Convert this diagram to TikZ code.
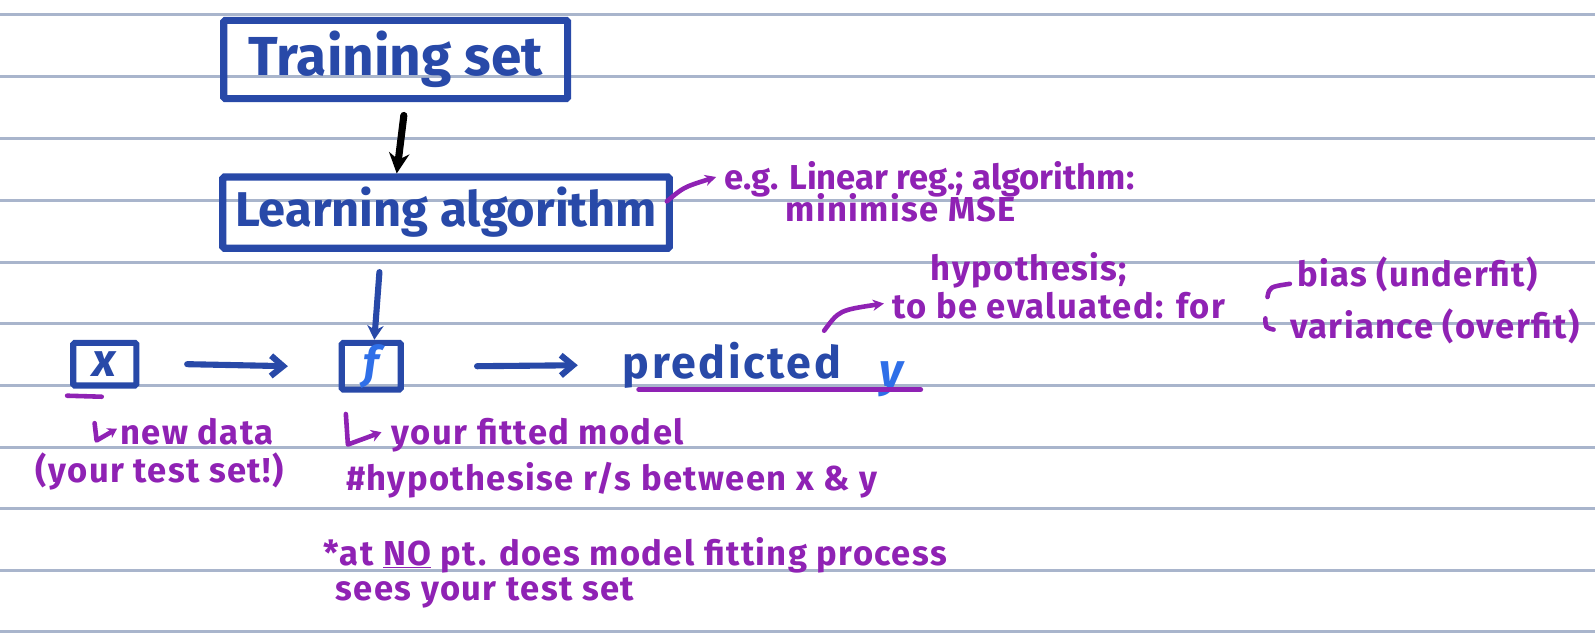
\documentclass[tikz,border=0pt]{standalone}
\usepackage{fontspec}
\setmainfont{Fira Sans}
\usetikzlibrary{arrows.meta}
\definecolor{boxblue}{HTML}{2849A8}
\definecolor{notepurple}{HTML}{8F22B4}
\definecolor{lightblue}{HTML}{2F6FE8}
\definecolor{rulecol}{HTML}{A9B5CC}
\begin{document}
\begin{tikzpicture}[x=1pt,y=-1pt,
  rule/.style={line width=2.5pt, draw=rulecol},
  bigbox/.style={draw=boxblue, line width=7pt, rounded corners=1.5pt, inner sep=0pt, text=boxblue},
  boxtext/.style={font=\fontsize{54}{58}\selectfont\bfseries},
  note/.style={text=notepurple, font=\fontsize{34}{38}\selectfont\bfseries\addfontfeature{LetterSpace=4}, anchor=base west, inner sep=0pt},
  bluetext/.style={text=boxblue, font=\fontsize{44}{46}\selectfont\bfseries\addfontfeature{LetterSpace=6}, anchor=base west, inner sep=0pt},
  pen/.style={line width=6pt, line cap=round, line join=round},
  notepen/.style={line width=4.5pt, line cap=round, line join=round, draw=notepurple},
  barb/.style={-{Straight Barb[length=12pt,width=20pt,line width=6pt]}},
  nbarb/.style={-{Stealth[length=11pt,width=11pt]}}
]
\useasboundingbox (0,0) rectangle (1568,622);
\fill[white] (0,0) rectangle (1568,622);
\foreach \yy in {14,75,136,197,258,318,379,440,500,561,621}
  \draw[rule] (0,\yy) -- (1568,\yy);

% boxes
\node[bigbox, boxtext, minimum width=338pt, minimum height=77pt] (train) at (389,58.5) {Training set};
\node[bigbox, boxtext, font=\fontsize{48}{52}\selectfont\bfseries, minimum width=439pt, minimum height=70pt] (learn) at (438.5,209) {Learning algorithm};
\node[bigbox, line width=6pt, minimum width=62pt, minimum height=42pt, font=\fontsize{46}{48}\selectfont\bfseries\itshape] (xbox) at (103,358) {x};
\node[bigbox, line width=6pt, minimum width=58pt, minimum height=46pt, text=lightblue, font=\fontsize{44}{48}\selectfont\bfseries\itshape] (fbox) at (365,360) {f};
\node[bluetext] (pred) at (612,372) {predicted};
\node[bluetext, text=lightblue, font=\fontsize{46}{48}\selectfont\bfseries\itshape] (yout) at (864,380) {y};

% main arrows
\draw[pen, black, line width=7pt, -{Stealth[length=20pt,width=20pt]}] ([xshift=8pt,yshift=-13pt]train.south) -- ([xshift=-48.5pt]learn.north);
\draw[pen, boxblue, -{Stealth[length=14pt,width=16pt]}] ([xshift=-65.5pt,yshift=-20pt]learn.south) -- ([xshift=3pt]fbox.north);
\draw[pen, boxblue, barb] ([xshift=47pt]xbox.east) -- ([xshift=-50pt]fbox.west);
\draw[pen, boxblue, barb] ([xshift=72pt]fbox.east) -- ([xshift=-44pt]pred.west);

% underlines
\draw[notepen, line width=5pt] (628,383) -- (905,383);
\draw[notepen] (66,389) -- (100,390);

% notes
\node[note, font=\fontsize{34}{38}\selectfont\bfseries] (eg) at (712,186) {e.g. Linear reg.; algorithm:};
\node[note] (mse) at (772,218) {minimise MSE};
\draw[notepen, nbarb] ([xshift=-6pt,yshift=11pt]learn.east) .. controls (672,184) .. ([xshift=-8pt,yshift=2pt]eg.west);

\node[note] (hyp) at (915,276) {hypothesis;};
\node[note] (tobe) at (877,313) {to be evaluated: for};
\draw[notepen, nbarb] ([xshift=-17pt,yshift=11pt]pred.north east) .. controls (825,305) .. ([xshift=-8pt,yshift=2pt]tobe.west);

\node[note] (bias) at (1275,282) {bias (underfit)};
\node[note] (var) at (1268,333) {variance (overfit)};
\draw[notepen] (1246,292) .. controls (1248,282) .. (1268,279);
\draw[notepen] (1244,313) .. controls (1244,322) .. (1252,324);

\node[note] (newdata) at (118,437) {new data};
\node[note] (testset) at (35,474) {(your test set!)};
\draw[notepen, -{Stealth[length=9pt,width=11pt]}] (93,416) -- (95,433) -- ([xshift=-3pt,yshift=3pt]newdata.west);

\node[note] (fitted) at (385,437) {your fitted model};
\node[note] (hypo) at (340,482) {\#hypothesise r/s between x \& y};
\draw[notepen, -{Stealth[length=10pt,width=12pt]}] (340,407) -- (342,437) -- ([xshift=-10pt,yshift=3pt]fitted.west);

\node[note] (nopt) at (318,556) {*at \underline{NO} pt. does model fitting process};
\node[note] (sees) at (330,590) {sees your test set};
\end{tikzpicture}
\end{document}
